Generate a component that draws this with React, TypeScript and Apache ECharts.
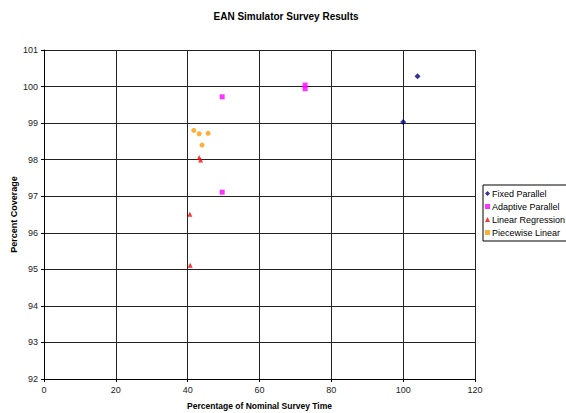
import React, { useEffect, useRef } from "react";
import * as echarts from "echarts";

const titleText = "EAN Simulator Survey Results";
const xName = "Percentage of Nominal Survey Time";
const yName = "Percent Coverage";

const fixedParallel: [number, number][] = [
  [104.0, 100.28],
  [100.0, 99.03],
];
const adaptiveParallel: [number, number][] = [
  [49.6, 99.72],
  [72.7, 100.04],
  [72.7, 99.94],
  [49.6, 97.11],
];
const linearRegression: [number, number][] = [
  [43.2, 98.06],
  [43.6, 97.99],
  [40.6, 96.51],
  [40.7, 95.11],
];
const piecewiseLinear: [number, number][] = [
  [41.7, 98.8],
  [43.2, 98.71],
  [45.7, 98.72],
  [44.0, 98.4],
];

const seriesNames = ["Fixed Parallel", "Adaptive Parallel", "Linear Regression", "Piecewise Linear"];
const seriesColors = ["#000080", "#FF00FF", "#FF0000", "#FF9900"];
const seriesSymbols = ["diamond", "rect", "triangle", "circle"];
const legendIcons = ["diamond", "rect", "triangle", "rect"];
const seriesData = [fixedParallel, adaptiveParallel, linearRegression, piecewiseLinear];

export default function App() {
  const ref = useRef<HTMLDivElement>(null);
  useEffect(() => {
    if (!ref.current) return;
    const chart = echarts.init(ref.current, null, { renderer: "svg" });
    const font = "'Liberation Sans', Arial, sans-serif";
    chart.setOption({
      animation: false,
      backgroundColor: "#ffffff",
      textStyle: { fontFamily: font },
      graphic: [
        {
          type: "text",
          x: 286,
          y: 16,
          style: {
            text: titleText,
            align: "center",
            verticalAlign: "middle",
            fontSize: 10,
            fontWeight: "bold",
            fill: "#000",
            fontFamily: font,
          },
        },
      ],
      grid: { left: 44, right: 91, top: 50, bottom: 34, containLabel: false, outerBoundsMode: "none" },
      legend: {
        orient: "vertical",
        left: 483,
        top: 185,
        itemWidth: 5,
        itemHeight: 5,
        itemGap: 4,
        padding: [4, 6, 4, 2],
        borderColor: "#000",
        borderWidth: 1,
        backgroundColor: "#fff",
        textStyle: { fontSize: 9, color: "#000", fontFamily: font, padding: [0, 0, 0, -3] },
        data: seriesNames.map((n, i) => ({ name: n, icon: legendIcons[i] })),
      },
      xAxis: {
        type: "value",
        min: 0,
        max: 120,
        interval: 20,
        name: xName,
        nameLocation: "middle",
        nameGap: 22,
        nameMoveOverlap: false,
        nameTextStyle: { fontSize: 8.5, fontWeight: "bold", color: "#000", fontFamily: font },
        axisLine: { show: true, lineStyle: { color: "#000", width: 1 } },
        axisTick: { show: true, inside: false, length: 3, lineStyle: { color: "#000" } },
        axisLabel: { fontSize: 9, color: "#222", margin: 6, fontFamily: font },
        splitLine: { show: true, lineStyle: { color: "#222", width: 1 } },
      },
      yAxis: {
        type: "value",
        min: 92,
        max: 101,
        interval: 1,
        name: yName,
        nameLocation: "middle",
        nameGap: 26,
        nameMoveOverlap: false,
        nameTextStyle: { fontSize: 9, fontWeight: "bold", color: "#000", fontFamily: font },
        axisLine: { show: true, lineStyle: { color: "#000", width: 1 } },
        axisTick: { show: true, inside: false, length: 3, lineStyle: { color: "#000" } },
        axisLabel: { fontSize: 9, color: "#222", margin: 6, fontFamily: font },
        splitLine: { show: true, lineStyle: { color: "#222", width: 1 } },
      },
      series: seriesNames.map((n, i) => ({
        name: n,
        type: "scatter",
        data: seriesData[i],
        symbol: seriesSymbols[i],
        symbolSize: i === 0 ? 6 : 5,
        itemStyle: { color: seriesColors[i] },
      })),
    });
    return () => chart.dispose();
  }, []);
  return <div ref={ref} style={{ width: 566, height: 413, position: "absolute", left: 0, top: 0 }} />;
}
